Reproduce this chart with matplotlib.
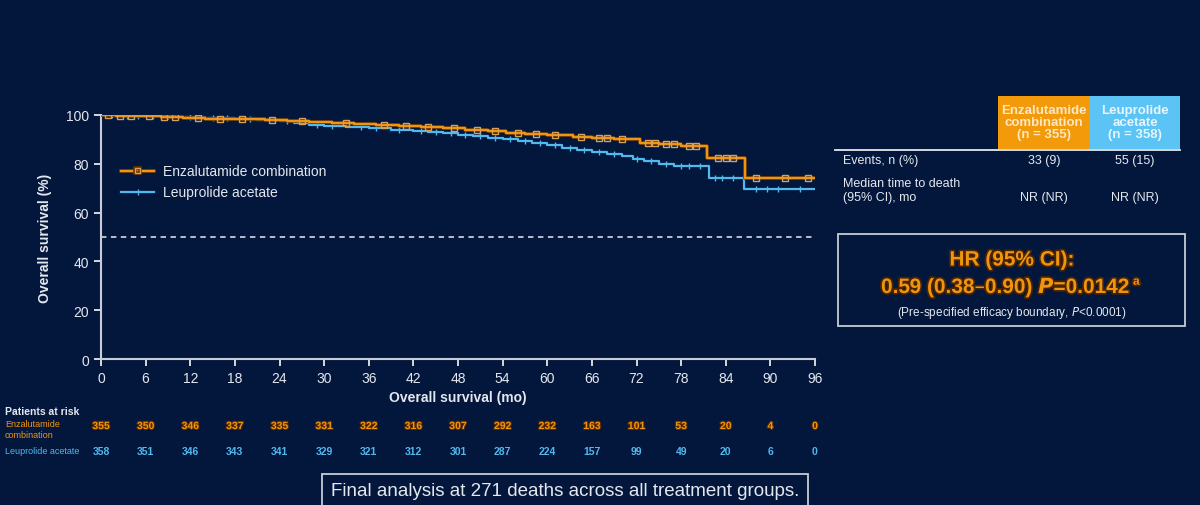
import numpy as np
import matplotlib
matplotlib.use("Agg")
import matplotlib.pyplot as plt
import matplotlib.patheffects as pe
from matplotlib.patches import Rectangle

plt.rcParams["font.family"] = ["Liberation Sans", "DejaVu Sans"]

# Kaplan-Meier steps (months, % alive)
enz_t = [0, 2, 5, 8, 11, 14, 18, 22, 25, 28, 31, 34, 37, 40, 43, 46, 49, 52,
         54.5, 57, 60, 63.5, 66, 69, 72.5, 75, 78, 81.5, 86.6, 96]
enz_s = [100, 99.7, 99.4, 99.1, 98.8, 98.5, 98.2, 97.9, 97.5, 97.1, 96.7, 96.3,
         95.9, 95.5, 95.1, 94.6, 94.0, 93.3, 92.6, 92.2, 91.8, 91.0, 90.6, 90.2,
         88.7, 88.3, 87.4, 82.5, 74.0, 74.0]
leu_t = [0, 3, 6, 10, 14, 18, 21, 24, 26, 28, 30, 33, 36, 39, 42, 44, 46, 48,
         50, 52, 54, 56, 58, 60, 62, 64, 66, 68, 70, 71.5, 73, 75, 77, 81.7,
         86.5, 96]
leu_s = [100, 99.7, 99.4, 99.1, 98.8, 98.5, 98.1, 97.6, 96.6, 96.1, 95.6, 95.0,
         94.5, 94.0, 93.5, 93.0, 92.5, 92.0, 91.3, 90.6, 90.0, 89.2, 88.4, 87.6,
         86.6, 85.7, 85.0, 84.2, 83.3, 82.0, 81.0, 80.0, 79.0, 74.0, 69.5, 69.5]

# censoring times
enz_cens = [1, 2.5, 4, 6.5, 8.5, 10, 13, 16, 19, 23, 27, 33, 38, 41, 44, 47.5,
            50.5, 53, 56, 58.5, 61, 64.5, 67, 68, 70, 73.5, 74.5, 76, 77, 79,
            80, 83, 84, 85, 88, 92, 95]
leu_cens = [1.5, 3.5, 5, 7, 9, 12, 15, 17, 20, 25, 29, 31, 35, 37, 40, 43, 45,
            47, 49, 51, 53, 55, 57, 59, 61, 63, 65, 67, 69, 72, 74, 76, 78, 79,
            80.5, 82.5, 83.5, 85, 88, 89.5, 91, 94]

months = [0, 6, 12, 18, 24, 30, 36, 42, 48, 54, 60, 66, 72, 78, 84, 90, 96]
enz_risk = [355, 350, 346, 337, 335, 331, 322, 316, 307, 292, 232, 163, 101, 53, 20, 4, 0]
leu_risk = [358, 351, 346, 343, 341, 329, 321, 312, 301, 287, 224, 157, 99, 49, 20, 6, 0]

BG = "#03173d"
ORANGE = "#f0950f"
BLUE = "#52b9ee"
FG = "#e4e8ee"
GRID = "#c8ccd4"


def fx(px):
    return px / 1200


def fy(py):
    return 1 - py / 506


def step_at(t, ts, ss):
    idx = np.searchsorted(ts, t, side="right") - 1
    return np.asarray(ss)[idx]


fig = plt.figure(figsize=(12, 5.06), dpi=100, facecolor=BG)
ax = fig.add_axes([fx(101), fy(360), fx(815) - fx(101), fy(116) - fy(360)])
ax.set_facecolor(BG)

shadow = [pe.Stroke(linewidth=2.6, foreground="#6a3300"), pe.Normal()]
ax.step(leu_t, leu_s, where="post", color=BLUE, lw=1.6, zorder=3)
ax.step(enz_t, enz_s, where="post", color=ORANGE, lw=1.7, zorder=4,
        path_effects=shadow)
ax.plot(leu_cens, step_at(leu_cens, leu_t, leu_s), ls="none", marker="|",
        ms=5, mew=1.0, color=BLUE, zorder=3)
ax.plot(enz_cens, step_at(enz_cens, enz_t, enz_s), ls="none", marker="s",
        ms=5, mew=1.0, mfc="none", mec="#d9a05a", zorder=5)

ax.axhline(50, color=GRID, lw=1.3, ls=(0, (3, 2.5)), zorder=2)

ax.set_xlim(0, 96)
ax.set_ylim(0, 100)
ax.set_xticks(months)
ax.set_yticks(range(0, 101, 20))
for s in ["top", "right"]:
    ax.spines[s].set_visible(False)
for s in ["left", "bottom"]:
    ax.spines[s].set_color(GRID)
    ax.spines[s].set_linewidth(1.5)
ax.tick_params(colors=FG, labelsize=10, length=5, width=1.3, direction="out")
ax.set_xlabel("Overall survival (mo)", color=FG, fontsize=10, fontweight="bold",
              labelpad=4)
ax.set_ylabel("Overall survival (%)", color=FG, fontsize=10, fontweight="bold",
              labelpad=10)

leg = ax.legend(
    handles=[
        plt.Line2D([], [], color=ORANGE, lw=1.7, marker="s", ms=4, mfc="none",
                   mec="#d9a05a", path_effects=shadow),
        plt.Line2D([], [], color=BLUE, lw=1.6, marker="|", ms=5),
    ],
    labels=["Enzalutamide combination", "Leuprolide acetate"],
    loc="upper left", bbox_to_anchor=(0.02, 0.82), frameon=False,
    fontsize=10, labelcolor=FG, handlelength=2.4, handletextpad=0.6,
    labelspacing=0.5, borderaxespad=0)

# patients at risk
fig.text(fx(5), fy(412), "Patients at risk", color=FG, fontsize=7.5,
         fontweight="bold", va="center")
fig.text(fx(5), fy(430), "Enzalutamide\ncombination", color=ORANGE, fontsize=6.5,
         va="center", linespacing=1.2)
fig.text(fx(5), fy(452), "Leuprolide acetate", color=BLUE, fontsize=6.5,
         va="center")
for m, a, b in zip(months, enz_risk, leu_risk):
    xpos = ax.transData.transform((m, 0))[0] / fig.bbox.width
    fig.text(xpos, fy(427), str(a), color=ORANGE, fontsize=7.5, fontweight="bold",
             ha="center", va="center",
             path_effects=[pe.withStroke(linewidth=1.5, foreground="#5a2a00")])
    fig.text(xpos, fy(452), str(b), color=BLUE, fontsize=7.5, fontweight="bold",
             ha="center", va="center")

# table on the right
fig.patches.append(Rectangle((fx(998), fy(150)), fx(1090) - fx(998),
                             fy(97) - fy(150), transform=fig.transFigure,
                             facecolor="#f39a0a", edgecolor="none", zorder=1))
fig.patches.append(Rectangle((fx(1090), fy(150)), fx(1180) - fx(1090),
                             fy(97) - fy(150), transform=fig.transFigure,
                             facecolor="#5cc3f5", edgecolor="none", zorder=1))
fig.text(fx(1044), fy(123), "Enzalutamide\ncombination\n(n = 355)",
         color="#fde8c4", fontsize=9.5, fontweight="bold", ha="center",
         va="center", linespacing=1.05)
fig.text(fx(1135), fy(123), "Leuprolide\nacetate\n(n = 358)",
         color="#e6f6ff", fontsize=9.5, fontweight="bold", ha="center",
         va="center", linespacing=1.05)
fig.add_artist(plt.Line2D([fx(835), fx(1180)], [fy(150.5), fy(150.5)],
                          transform=fig.transFigure, color=FG, lw=1.3))
fig.text(fx(843), fy(161), "Events, n (%)", color=FG, fontsize=9, va="center")
fig.text(fx(1044), fy(161), "33 (9)", color=FG, fontsize=9, ha="center",
         va="center")
fig.text(fx(1135), fy(161), "55 (15)", color=FG, fontsize=9, ha="center",
         va="center")
fig.text(fx(843), fy(191), "Median time to death\n(95% CI), mo", color=FG,
         fontsize=9, va="center", linespacing=1.15)
fig.text(fx(1044), fy(198), "NR (NR)", color=FG, fontsize=9, ha="center",
         va="center")
fig.text(fx(1135), fy(198), "NR (NR)", color=FG, fontsize=9, ha="center",
         va="center")

# HR box
fig.patches.append(Rectangle((fx(838), fy(327)), fx(1185) - fx(838),
                             fy(235) - fy(327), transform=fig.transFigure,
                             facecolor="none", edgecolor=GRID, lw=1.3))
hr_fx = [pe.withStroke(linewidth=2.5, foreground="#4a2400")]
fig.text(fx(1012), fy(261), "HR (95% CI):", color=ORANGE, fontsize=15,
         fontweight="bold", ha="center", va="center", path_effects=hr_fx)
hr_txt = fig.text(fx(1006), fy(288), r"0.59 (0.38–0.90) $\bfit{P}$=0.0142",
                  color=ORANGE, fontsize=15, fontweight="bold", ha="center",
                  va="center", path_effects=hr_fx)
ax.annotate("a", xy=(1.0, 0.72), xycoords=hr_txt, xytext=(1.5, 0),
            textcoords="offset points", color=ORANGE, fontsize=8.5,
            fontweight="bold", ha="left", va="center", path_effects=hr_fx,
            annotation_clip=False)
fig.text(fx(1012), fy(313), r"(Pre-specified efficacy boundary, $\it{P}$<0.0001)",
         color=FG, fontsize=8.5, ha="center", va="center")

# footnote box
fig.text(fx(565), fy(492), "Final analysis at 271 deaths across all treatment groups.",
         color=FG, fontsize=13.5, ha="center", va="center",
         bbox=dict(boxstyle="square,pad=0.45", facecolor="none", edgecolor=GRID,
                   lw=1.3))

fig.savefig("out.png", dpi=100, facecolor=BG)
